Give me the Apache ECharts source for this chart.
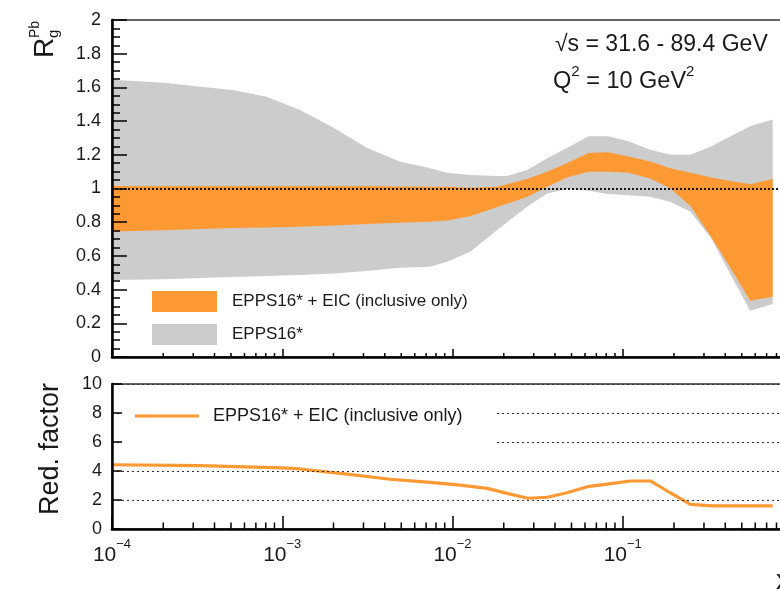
<!DOCTYPE html>
<html>
<head>
<meta charset="utf-8">
<script src="https://cdn.jsdelivr.net/npm/echarts@6/dist/echarts.min.js"></script>
<style>
  html, body { margin: 0; padding: 0; background: #fff; }
  #chart { width: 780px; height: 594px; }
</style>
</head>
<body>
<div id="chart"></div>
<script>
// x grid shared by both uncertainty bands (gluon nuclear modification, Q^2 = 10 GeV^2)
const bandX = [1e-4, 2e-4, 3.3e-4, 5.1e-4, 8.1e-4, 1.27e-3, 2.0e-3, 3.15e-3, 4.9e-3, 7.4e-3,
  9.3e-3, 1.27e-2, 1.83e-2, 2.09e-2, 2.74e-2, 3.6e-2, 4.7e-2, 6.3e-2, 8.2e-2, 0.108,
  0.145, 0.19, 0.25, 0.33, 0.43, 0.56, 0.76];
// EPPS16* band
const eppsUpper = [1.645, 1.628, 1.604, 1.585, 1.545, 1.466, 1.36, 1.24, 1.16, 1.12,
  1.094, 1.08, 1.074, 1.074, 1.11, 1.18, 1.24, 1.31, 1.31, 1.28,
  1.23, 1.20, 1.20, 1.25, 1.31, 1.37, 1.41];
const eppsLower = [0.457, 0.462, 0.469, 0.475, 0.48, 0.487, 0.495, 0.51, 0.53, 0.536,
  0.566, 0.625, 0.754, 0.80, 0.892, 0.97, 0.997, 0.987, 0.967, 0.96,
  0.951, 0.922, 0.862, 0.706, 0.49, 0.275, 0.315];
// EPPS16* + EIC (inclusive only) band
const eicUpper = [1.015, 1.015, 1.015, 1.015, 1.015, 1.015, 1.015, 1.015, 1.012, 1.01,
  1.01, 1.005, 1.01, 1.025, 1.056, 1.10, 1.15, 1.21, 1.215, 1.19,
  1.16, 1.12, 1.094, 1.066, 1.045, 1.025, 1.056];
const eicLower = [0.745, 0.752, 0.76, 0.765, 0.768, 0.773, 0.78, 0.79, 0.797, 0.803,
  0.81, 0.835, 0.89, 0.91, 0.95, 1.01, 1.066, 1.10, 1.10, 1.094,
  1.06, 1.001, 0.896, 0.714, 0.528, 0.334, 0.358];

// Reduction factor of the uncertainty
const redX = [1e-4, 3.3e-4, 1e-3, 1.27e-3, 2.4e-3, 4.3e-3, 7.4e-3, 1.11e-2, 1.6e-2, 2.09e-2,
  2.76e-2, 3.6e-2, 4.7e-2, 6.2e-2, 8.1e-2, 0.111, 0.146, 0.19, 0.25, 0.34, 0.76];
const redFactor = [4.43, 4.37, 4.22, 4.14, 3.79, 3.43, 3.22, 3.03, 2.8, 2.46,
  2.12, 2.19, 2.5, 2.92, 3.1, 3.31, 3.31, 2.5, 1.7, 1.59, 1.59];

// Axis tick values
const decades = [1e-4, 1e-3, 1e-2, 1e-1];
const minorMultipliers = [2, 3, 4, 5, 6, 7, 8, 9];
const minorTicksX = [];
decades.forEach(d => minorMultipliers.forEach(m => minorTicksX.push(m * d)));

const NAME_EIC = 'EPPS16* + EIC (inclusive only)';
const NAME_EPPS = 'EPPS16*';
const FONT = "'Liberation Sans', Arial, Helvetica, sans-serif";
const ORANGE = '#ff9933';
const GRAY = '#cccccc';
const INK = '#1a1a1a';

const chart = echarts.init(document.getElementById('chart'), null, { renderer: 'canvas' });

function pairs(xs, ys) { return xs.map((x, i) => [x, ys[i]]); }

// One filled polygon per band: upper edge left-to-right, lower edge back.
function bandSeries(name, lower, upper, color, z) {
  return {
    type: 'custom', name: name, xAxisIndex: 0, yAxisIndex: 0, silent: true, z: z,
    itemStyle: { color: color },
    data: [[bandX[0], lower[0]]],
    renderItem: function (params, api) {
      const pts = [];
      for (let i = 0; i < bandX.length; i++) pts.push(api.coord([bandX[i], upper[i]]));
      for (let i = bandX.length - 1; i >= 0; i--) pts.push(api.coord([bandX[i], lower[i]]));
      return { type: 'polygon', shape: { points: pts }, style: { fill: color } };
    }
  };
}

function minorTickSeries(xi, yi, len) {
  return {
    type: 'custom', xAxisIndex: xi, yAxisIndex: yi, silent: true, z: 6,
    data: minorTicksX.map(v => [v, 0]),
    renderItem: function (params, api) {
      const p = api.coord([api.value(0), api.value(1)]);
      return { type: 'line', shape: { x1: p[0], y1: p[1], x2: p[0], y2: p[1] - len },
        style: { stroke: '#000', lineWidth: 1.5 } };
    }
  };
}

const xLabelRich = {
  b: { fontSize: 21, lineHeight: 28, verticalAlign: 'bottom', fontFamily: FONT, color: INK },
  s: { fontSize: 13, lineHeight: 14, verticalAlign: 'top', fontFamily: FONT, color: INK }
};

function logAxis(gridIndex, tickLen, showLabels) {
  return {
    type: 'log', logBase: 10, gridIndex: gridIndex, min: 1e-4, max: 1, z: 5,
    axisLine: { show: true, onZero: false, lineStyle: { color: '#000', width: 2.5 } },
    axisTick: { show: true, inside: true, length: tickLen, lineStyle: { color: '#000', width: 1.5 } },
    splitLine: { show: false },
    axisLabel: showLabels ? {
      show: true, margin: 9, rich: xLabelRich,
      formatter: function (v) {
        const e = Math.round(Math.log10(v));
        if (e >= 0) return '';
        return '{b|10}{s|' + (e < 0 ? '\u2212' : '') + Math.abs(e) + '}';
      }
    } : { show: false }
  };
}

const option = {
  animation: false,
  backgroundColor: '#fff',
  textStyle: { fontFamily: FONT },
  grid: [
    { left: 112, top: 20, width: 681, height: 337, outerBoundsMode: 'none', containLabel: false,
      show: true, borderColor: '#333', borderWidth: 1.5 },
    { left: 112, top: 384, width: 681, height: 145, outerBoundsMode: 'none', containLabel: false,
      show: true, borderColor: '#333', borderWidth: 1.5 }
  ],
  xAxis: [ logAxis(0, 8, false), logAxis(1, 13, true) ],
  yAxis: [
    { type: 'value', gridIndex: 0, min: 0, max: 2, interval: 0.2, z: 5,
      axisLine: { show: true, onZero: false, lineStyle: { color: '#000', width: 2.5 } },
      axisTick: { show: true, inside: true, length: 15, lineStyle: { color: '#000', width: 1.5 } },
      minorTick: { show: true, splitNumber: 4, length: 8, lineStyle: { color: '#000', width: 1.5 } },
      splitLine: { show: false },
      axisLabel: { fontSize: 18, margin: 11, color: INK, fontFamily: FONT } },
    { type: 'value', gridIndex: 1, min: 0, max: 10, interval: 2, z: 5,
      axisLine: { show: true, onZero: false, lineStyle: { color: '#000', width: 2.5 } },
      axisTick: { show: true, inside: true, length: 10, lineStyle: { color: '#000', width: 1.5 } },
      splitLine: { show: true, lineStyle: { color: '#333', width: 1, type: [2, 3] } },
      axisLabel: { fontSize: 18, margin: 10, color: INK, fontFamily: FONT } }
  ],
  legend: [
    { orient: 'vertical', left: 152, top: 291, padding: 0, itemGap: 12,
      itemWidth: 65, itemHeight: 21, icon: 'rect', z: 10, selectedMode: false,
      textStyle: { fontSize: 17, color: INK, fontFamily: FONT, padding: [0, 0, 0, 10] },
      data: [
        { name: NAME_EIC, itemStyle: { color: ORANGE, borderWidth: 0 } },
        { name: NAME_EPPS, itemStyle: { color: GRAY, borderWidth: 0 } }
      ] },
    { orient: 'horizontal', left: 122, top: 398, padding: [9, 32, 30, 13],
      itemWidth: 64, itemHeight: 3, icon: 'rect', z: 10, selectedMode: false,
      backgroundColor: '#fff',
      textStyle: { fontSize: 18, color: INK, fontFamily: FONT, padding: [0, 0, 0, 9] },
      data: [ { name: NAME_EIC, itemStyle: { color: ORANGE, borderWidth: 0 } } ] }
  ],
  series: [
    bandSeries(NAME_EPPS, eppsLower, eppsUpper, GRAY, 2),
    bandSeries(NAME_EIC, eicLower, eicUpper, ORANGE, 3),
    { type: 'line', name: 'unity', xAxisIndex: 0, yAxisIndex: 0, data: [], silent: true, z: 4,
      markLine: { silent: true, symbol: 'none', label: { show: false },
        lineStyle: { color: '#000', width: 1.8, type: [2, 2] },
        data: [ { yAxis: 1 } ] } },
    { type: 'line', name: NAME_EIC, xAxisIndex: 1, yAxisIndex: 1, data: pairs(redX, redFactor),
      symbol: 'none', silent: true, z: 3,
      lineStyle: { color: ORANGE, width: 3.2 }, itemStyle: { color: ORANGE } },
    minorTickSeries(0, 0, 4),
    minorTickSeries(1, 1, 6.5)
  ],
  graphic: [
    { type: 'group', x: 55, y: 58, rotation: Math.PI / 2, children: [
      { type: 'text', x: 0, y: -10, style: { text: 'R', fontSize: 28, fontFamily: FONT, fill: INK,
        align: 'left', verticalAlign: 'middle' } },
      { type: 'text', x: 20, y: -1, style: { text: 'g', fontSize: 15, fontFamily: FONT, fill: INK,
        align: 'left', verticalAlign: 'middle' } },
      { type: 'text', x: 20, y: -20, style: { text: 'Pb', fontSize: 14, fontFamily: FONT, fill: INK,
        align: 'left', verticalAlign: 'middle' } }
    ] },
    { type: 'text', x: 51, y: 449, rotation: Math.PI / 2,
      style: { text: 'Red. factor', fontSize: 27, fontFamily: FONT, fill: INK,
        align: 'center', verticalAlign: 'middle' } },
    { type: 'text', x: 555, y: 45,
      style: { text: '\u221As = 31.6 - 89.4 GeV', fontSize: 23, fontFamily: FONT, fill: INK,
        align: 'left', verticalAlign: 'middle' } },
    { type: 'text', x: 553, y: 79,
      style: { text: '{n|Q}{s|2}{n| = 10 GeV}{s|2}', fontFamily: FONT, fill: INK,
        align: 'left', verticalAlign: 'middle',
        rich: { n: { fontSize: 23.5, lineHeight: 30, verticalAlign: 'bottom', fontFamily: FONT, fill: INK },
                s: { fontSize: 15, lineHeight: 15, verticalAlign: 'top', fontFamily: FONT, fill: INK } } } },
    { type: 'text', x: 776, y: 581,
      style: { text: 'x', fontSize: 28, fontFamily: FONT, fill: INK, align: 'left', verticalAlign: 'middle' } }
  ]
};

chart.setOption(option);
</script>
</body>
</html>
